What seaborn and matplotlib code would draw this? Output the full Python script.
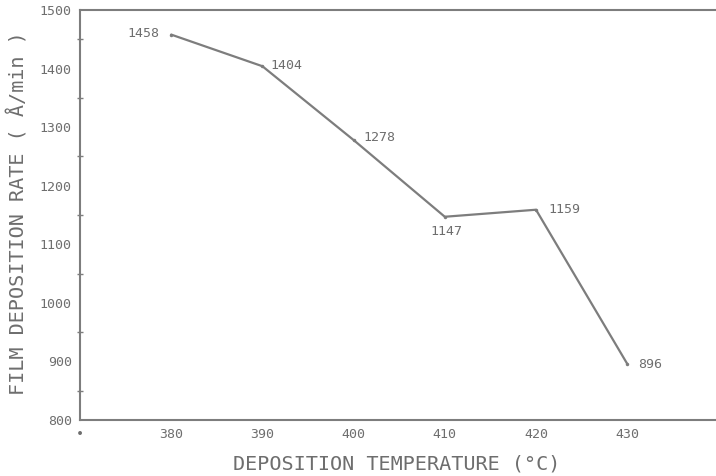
import matplotlib
matplotlib.use("Agg")
import matplotlib.pyplot as plt
import seaborn as sns
import pandas as pd
from matplotlib.ticker import MultipleLocator

# Film deposition rate versus deposition temperature
temperatures = [380, 390, 400, 410, 420, 430]
rates = [1458, 1404, 1278, 1147, 1159, 896]
rate_labels = ["1458", "1404", "1278", "1147", "1159", "896"]

x_ticks = [370, 380, 390, 400, 410, 420, 430]
x_tick_labels = ["•", "380", "390", "400", "410", "420", "430"]
y_ticks = [800, 900, 1000, 1100, 1200, 1300, 1400, 1500]

x_title = "DEPOSITION TEMPERATURE (°C)"
y_title = "FILM DEPOSITION RATE ( Å/min )"

sns.set_theme(style="white")
plt.rcParams["font.family"] = ["DejaVu Sans Mono", "DejaVu Sans"]

ink = "#6e6e6e"
line_col = "#7d7d7d"

fig = plt.figure(figsize=(7.16, 4.76), dpi=100)
ax_w_px = 716 - 80
ax = fig.add_axes([80 / 716, 56 / 476, ax_w_px / 716, 410 / 476])

df = pd.DataFrame({"temp": temperatures, "rate": rates})
sns.lineplot(data=df, x="temp", y="rate", ax=ax, color=line_col, linewidth=1.6,
             marker="o", markersize=2.5, markeredgewidth=0, markerfacecolor=line_col)

ax.set_xlim(370, 370 + ax_w_px / 9.12)
ax.set_ylim(800, 1500)

ax.set_xticks(x_ticks)
ax.set_xticklabels(x_tick_labels)
ax.set_yticks(y_ticks)
ax.yaxis.set_minor_locator(MultipleLocator(50))

ax.tick_params(axis="both", which="major", direction="inout", length=8, width=1.2,
               color=line_col, labelcolor=ink, labelsize=9.5, pad=2)
ax.tick_params(axis="y", which="minor", direction="inout", length=4, width=1.0,
               color=line_col, left=True)

for side in ["left", "bottom", "top"]:
    ax.spines[side].set_color(line_col)
    ax.spines[side].set_linewidth(1.5)
ax.spines["right"].set_visible(False)

# value labels next to each point
label_offsets = [(-12, 1, "right"), (8, 1, "left"), (10, 3, "left"),
                 (2, -15, "center"), (12, 0, "left"), (11, -1, "left")]
for t, r, txt, (dx, dy, ha) in zip(temperatures, rates, rate_labels, label_offsets):
    ax.annotate(txt, (t, r), xytext=(dx, dy), textcoords="offset pixels",
                ha=ha, va="center", fontsize=9.5, color=ink)

ax.set_xlabel(x_title, fontsize=14.5, color=ink)
ax.set_ylabel(y_title, fontsize=14.5, color=ink)
ax.yaxis.set_label_coords(-51 / ax_w_px, 0.505)
ax.xaxis.set_label_coords((397 - 80) / ax_w_px, -35 / 410)

fig.savefig("out.png", dpi=100)
